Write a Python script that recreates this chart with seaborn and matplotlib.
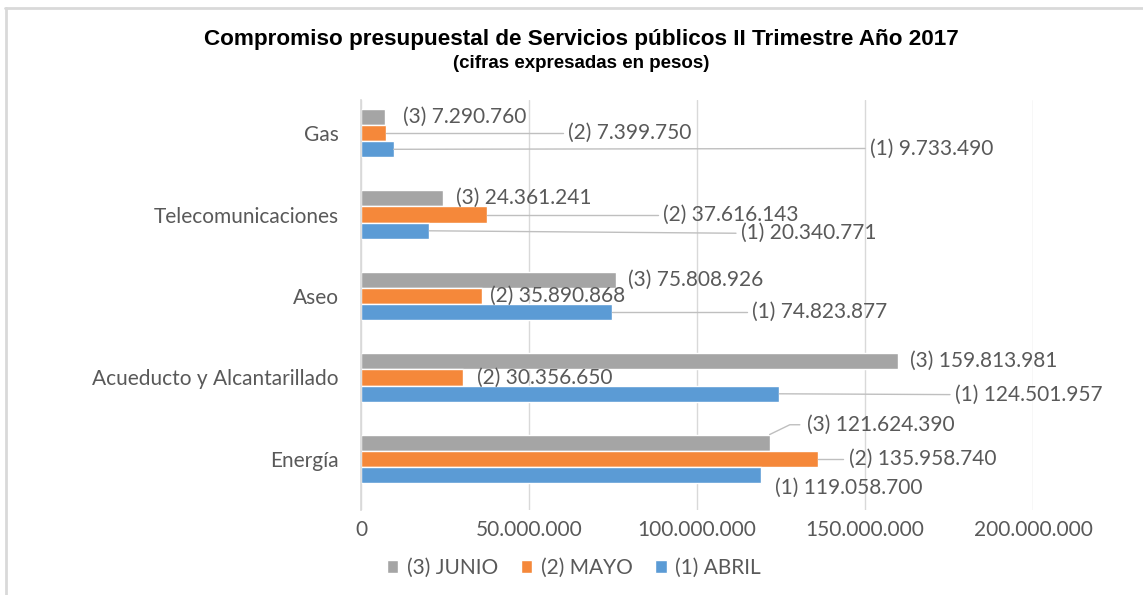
import pandas as pd
import matplotlib.pyplot as plt
import seaborn as sns
from matplotlib.lines import Line2D

categories = ["Gas", "Telecomunicaciones", "Aseo", "Acueducto y Alcantarillado", "Energía"]
months = ["(3) JUNIO", "(2) MAYO", "(1) ABRIL"]
junio = [7290760, 24361241, 75808926, 159813981, 121624390]
mayo = [7399750, 37616143, 35890868, 30356650, 135958740]
abril = [9733490, 20340771, 74823877, 124501957, 119058700]
x_ticks = [0, 50000000, 100000000, 150000000, 200000000]

# label placement (millions, category units) copied from the Excel layout
label_x = [
    [12.5, 28.3, 79.5, 163.4, 132.6],
    [61.6, 89.9, 38.5, 34.5, 145.1],
    [151.5, 113.1, 116.4, 176.8, 123.2],
]
label_dy = [
    [0, 0, 0, 0, -0.22],
    [0, 0, 0, 0, 0],
    [-0.01, 0.03, 0, 0.01, 0.16],
]
leader = [
    [False, False, False, False, True],
    [True, True, False, False, True],
    [True, True, True, True, False],
]

colors = ["#A5A5A5", "#F5883A", "#5B9BD5"]
text_gray = "#595959"

df = pd.DataFrame({
    "categoria": categories * 3,
    "mes": [m for m in months for _ in categories],
    "valor": junio + mayo + abril,
})

sns.set_theme(style="white")
plt.rcParams["font.family"] = ["Lato", "DejaVu Sans"]

fig = plt.figure(figsize=(11.43, 5.95), dpi=100)
ax = fig.add_axes([361 / 1143, 1 - 510 / 595, 672 / 1143, 410 / 595])

sns.barplot(data=df, x="valor", y="categoria", hue="mes", hue_order=months,
            order=categories, palette=colors, orient="h", width=0.6,
            saturation=1, ax=ax, legend=True)

ax.set_xlim(0, 200000000)
ax.set_ylim(4.626, -0.405)
ax.set_xticks(x_ticks)
ax.set_xticklabels([f"{t:,}".replace(",", ".") for t in x_ticks])
ax.set_xlabel("")
ax.set_ylabel("")
ax.tick_params(axis="both", colors=text_gray, labelsize=15, length=0)
ax.tick_params(axis="x", pad=7)
ax.tick_params(axis="y", pad=16)
ax.grid(axis="x", color="#D9D9D9", lw=1)
ax.set_axisbelow(True)
for s in ["top", "right", "bottom"]:
    ax.spines[s].set_visible(False)
ax.spines["left"].set_color("#D9D9D9")

for h, cont in enumerate(ax.containers):
    n = 3 - h
    for c, bar in enumerate(cont):
        v = bar.get_width()
        yc = bar.get_y() + bar.get_height() / 2
        tx = label_x[h][c] * 1e6
        ty = yc + label_dy[h][c]
        txt = f"({n}) " + f"{int(round(v)):,}".replace(",", ".")
        ax.text(tx, ty, txt, ha="left", va="center", fontsize=15,
                color=text_gray, clip_on=False)
        if leader[h][c]:
            if label_dy[h][c] < -0.1:
                xs = [v, v + 6e6, tx - 2e6]
                ys = [bar.get_y(), ty, ty]
            else:
                xs = [v, tx - 1.5e6]
                ys = [yc, ty]
            ax.add_line(Line2D(xs, ys, color="#BFBFBF", lw=1, clip_on=False))

handles, labels = ax.get_legend_handles_labels()
ax.get_legend().remove()
fig.legend(handles, labels, loc="center", bbox_to_anchor=(574 / 1143, 1 - 568 / 595),
           ncol=3, frameon=False, fontsize=15, labelcolor=text_gray,
           handlelength=0.55, handleheight=0.55, handletextpad=0.4, columnspacing=1.1)

fig.text(581 / 1143, 1 - 40 / 595,
         "Compromiso presupuestal de Servicios públicos II Trimestre Año 2017",
         ha="center", va="center", fontsize=16.2, fontweight="bold",
         family=["Liberation Sans", "DejaVu Sans"], color="black")
fig.text(581 / 1143, 1 - 63 / 595, "(cifras expresadas en pesos)",
         ha="center", va="center", fontsize=13.5, fontweight="bold",
         family=["Liberation Sans", "DejaVu Sans"], color="black")

# chart frame (only top and left edges are visible in the screenshot)
fig.add_artist(Line2D([5 / 1143, 1], [1 - 8 / 595, 1 - 8 / 595],
                      transform=fig.transFigure, color="#D9D9D9", lw=2))
fig.add_artist(Line2D([6 / 1143, 6 / 1143], [0, 1 - 8 / 595],
                      transform=fig.transFigure, color="#D9D9D9", lw=2))

fig.savefig("out.png", dpi=100)
